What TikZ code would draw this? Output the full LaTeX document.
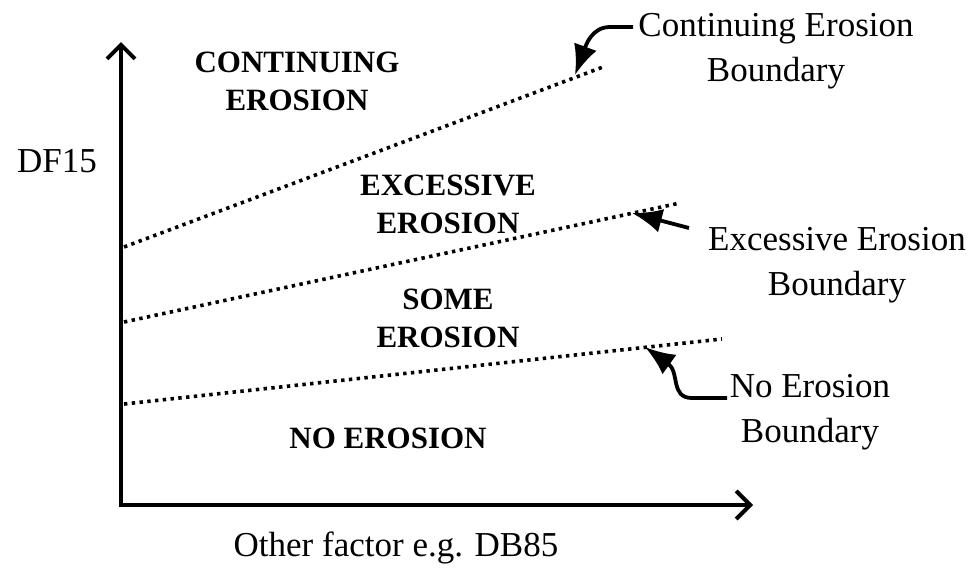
\documentclass[tikz,border=0pt]{standalone}
\usepackage{fontspec}
\setmainfont{Liberation Serif}
\usetikzlibrary{arrows.meta}
\begin{document}
\begin{tikzpicture}[x=1pt,y=-1pt,
  axisline/.style={line width=4pt, line join=miter, {Straight Barb[length=14pt,width=28pt,line width=4pt]}-{Straight Barb[length=14pt,width=28pt,line width=4pt]}},
  boundline/.style={line width=3.6pt, dash pattern=on 3.4pt off 4.4pt},
  callout/.style={line width=3.8pt, -{Latex[length=30pt,width=24pt]}},
  region/.style={font=\fontsize{31}{38}\selectfont\bfseries, align=center, inner sep=0pt},
  lbl/.style={font=\fontsize{35}{45}\selectfont, align=center, inner sep=0pt}]
\useasboundingbox (0,0) rectangle (972,573);
% axes
\coordinate (ytip) at (121,42);
\coordinate (orig) at (121,505);
\coordinate (xtip) at (753,505);
\draw[axisline] (ytip) -- (orig) -- (xtip);
% boundaries
\coordinate (b1s) at (124,247); \coordinate (b1e) at (603,67);
\coordinate (b2s) at (124,322); \coordinate (b2e) at (680,203);
\coordinate (b3s) at (124,404); \coordinate (b3e) at (722,339);
\draw[boundline] (b1s) -- (b1e);
\draw[boundline] (b2s) -- (b2e);
\draw[boundline] (b3s) -- (b3e);
% region labels
\node[region] (ce) at (297,81) {CONTINUING\\EROSION};
\node[region] (ee) at (448,204) {EXCESSIVE\\EROSION};
\node[region] (se) at (448,318) {SOME\\EROSION};
\node[region] (ne) at (388,438) {NO EROSION};
% axis labels
\node[lbl] (df) at (57,161) {DF15};
\node[lbl] (of) at (396,548) {Other factor e.g. DB85};
% boundary labels
\node[lbl] (lb1) at (776,51) {Continuing Erosion\\Boundary};
\node[lbl] (lb2) at (837,265) {Excessive Erosion\\Boundary};
\node[lbl] (lb3) at (810,412) {No Erosion\\Boundary};
% callouts
\coordinate (a1s) at (633,27); \coordinate (a1t) at (575,75);
\coordinate (a2s) at (689,228); \coordinate (a2t) at (632,213);
\coordinate (a3s) at (727,398); \coordinate (a3t) at (645,347);
\draw[callout] (a1s) -- (610,27) .. controls (592,27) and (586,45) .. (a1t);
\draw[callout] (a2s) -- (a2t);
\draw[callout] (a3s) -- (692,398) .. controls (670,398) and (680,372) .. (a3t);
\end{tikzpicture}
\end{document}
